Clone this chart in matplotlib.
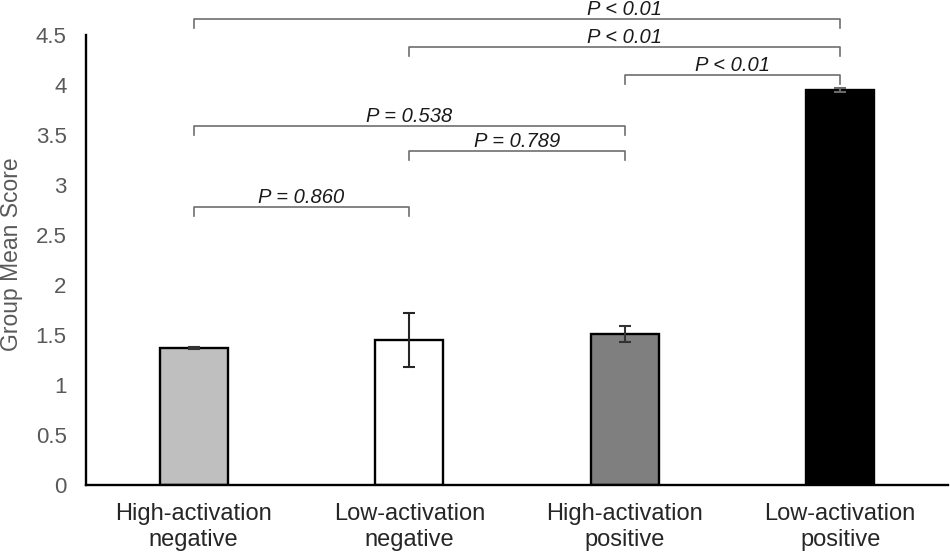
import matplotlib
matplotlib.use('Agg')
import matplotlib.pyplot as plt

plt.rcParams['font.family'] = ['Liberation Sans', 'DejaVu Sans']

# data
categories = ['High-activation\nnegative', 'Low-activation\nnegative',
              'High-activation\npositive', 'Low-activation\npositive']
means = [1.37, 1.45, 1.51, 3.95]
errors = [0.01, 0.27, 0.08, 0.02]

# pairwise comparisons: (group a, group b, label)
pairs = [(0, 3), (1, 3), (2, 3), (0, 2), (1, 2), (0, 1)]
p_labels = ['P < 0.01', 'P < 0.01', 'P < 0.01', 'P = 0.538', 'P = 0.789', 'P = 0.860']

# styling / layout
bar_colors = ['#bfbfbf', '#ffffff', '#7f7f7f', '#000000']
err_colors = ['#333333', '#262626', '#333333', '#6a6a6a']
bracket_y = [4.66, 4.38, 4.10, 3.59, 3.34, 2.78]
label_x = [2.0, 2.0, 2.5, 1.0, 1.5, 0.5]
tick_h = 0.09

fig = plt.figure(figsize=(9.5, 5.55), dpi=100)
ax = fig.add_axes([86 / 950, 70 / 555, 862 / 950, 450 / 555])

x = list(range(len(categories)))
ax.bar(x, means, width=0.316, color=bar_colors, edgecolor='black', linewidth=1.7, zorder=2)
for xi, m, e, c in zip(x, means, errors, err_colors):
    ax.errorbar(xi, m, yerr=e, fmt='none', ecolor=c, elinewidth=1.5,
                capsize=4.5, capthick=1.5, zorder=3)

for (a, b), txt, y, lx in zip(pairs, p_labels, bracket_y, label_x):
    ax.plot([a, a, b, b], [y - tick_h, y, y, y - tick_h], color='#6e6e6e',
            lw=1.2, clip_on=False, zorder=4)
    ax.text(lx, y + 0.04, txt, ha='center', va='baseline', fontsize=14.5,
            fontstyle='italic', color='#1a1a1a', clip_on=False)

ax.set_xlim(-0.5, 3.5)
ax.set_ylim(0, 4.5)
ax.set_yticks([0, 0.5, 1, 1.5, 2, 2.5, 3, 3.5, 4, 4.5])
ax.set_yticklabels(['0', '0.5', '1', '1.5', '2', '2.5', '3', '3.5', '4', '4.5'])
ax.set_xticks(x)
ax.set_xticklabels(categories, linespacing=1.25)

ax.tick_params(axis='y', length=0, pad=14, labelsize=16, labelcolor='#595959')
ax.tick_params(axis='x', length=0, pad=13, labelsize=17, labelcolor='#262626')

for side in ['top', 'right']:
    ax.spines[side].set_visible(False)
ax.spines['left'].set_linewidth(1.7)
ax.spines['bottom'].set_linewidth(1.7)

fig.text(12 / 950, 1 - 254 / 555, 'Group Mean Score', rotation=90, ha='center',
         va='center', fontsize=16.5, color='#595959')

fig.savefig('out.png', dpi=100)
